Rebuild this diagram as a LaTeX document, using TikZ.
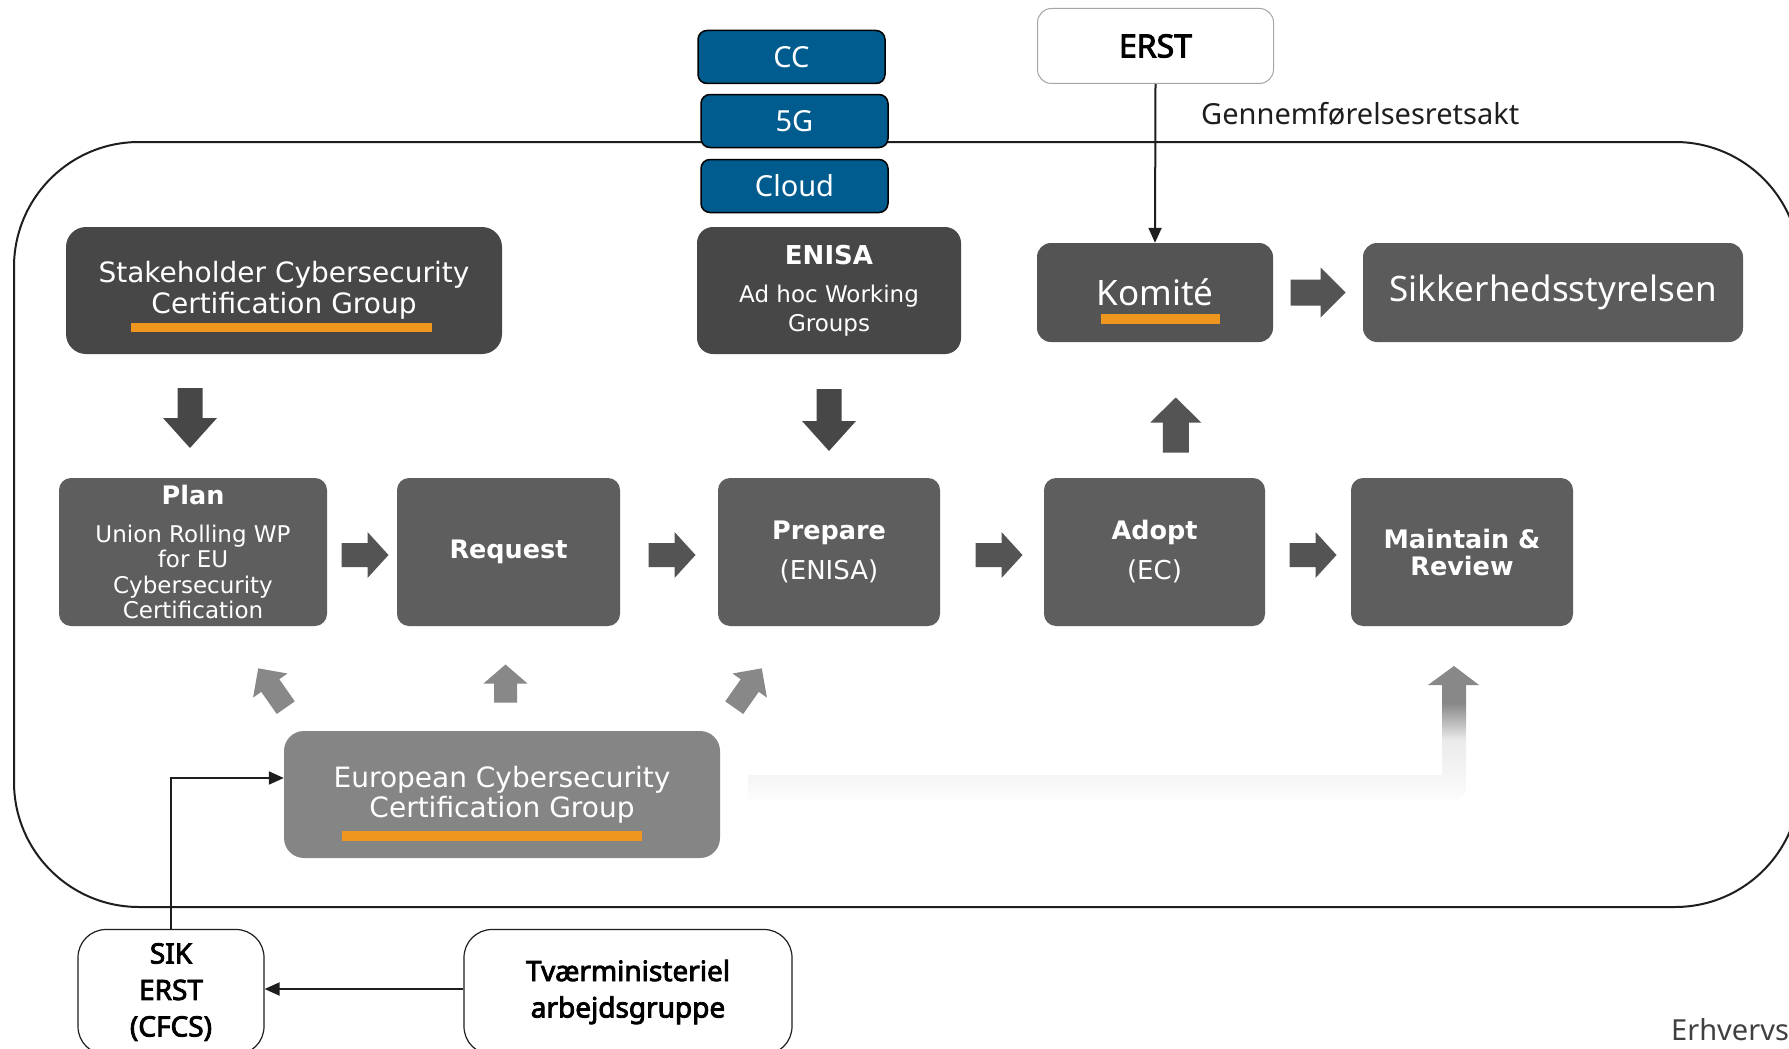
\documentclass[tikz,border=0pt]{standalone}
\usepackage{fontspec}
\setmainfont{Noto Sans}
\newfontfamily\nbf{Noto Sans}[FakeBold=3]
\newfontfamily\verd{DejaVu Sans}
\usetikzlibrary{calc,arrows.meta}
\definecolor{dk}{HTML}{474747}
\definecolor{km}{HTML}{545454}
\definecolor{sk}{HTML}{5B5B5B}
\definecolor{pr}{HTML}{5E5E5E}
\definecolor{eu}{HTML}{858585}
\definecolor{lg}{HTML}{888888}
\definecolor{blu}{HTML}{005C8F}
\definecolor{org}{HTML}{EF961F}
\definecolor{ln}{HTML}{1E1E1E}
\newcommand\fs[2]{\fontsize{#1}{#2}\selectfont}
% #1 colour, #2 centre, #3 angle, #4 total length, #5 head width, #6 shaft width, #7 head length
\newcommand\blockarw[7]{\fill[#1,shift={#2},rotate=#3]
  (-#4/2,-#6/2) -- (#4/2-#7,-#6/2) -- (#4/2-#7,-#5/2) -- (#4/2,0) --
  (#4/2-#7,#5/2) -- (#4/2-#7,#6/2) -- (-#4/2,#6/2) -- cycle;}
\begin{document}
\begin{tikzpicture}[x=1pt,y=-1pt,
  darkbox/.style={rounded corners=16pt, inner sep=0pt, align=center, text=white},
  procbox/.style={darkbox, fill=pr, rounded corners=12pt, minimum width=222pt, minimum height=148pt, font=\verd\fs{26}{26}},
  bluebox/.style={draw=black, line width=1.5pt, fill=blu, rounded corners=9pt, minimum width=187pt, minimum height=53pt, text=white, font=\fs{29}{29}, inner sep=0pt},
  whitebox/.style={draw=ln, line width=1.2pt, fill=white, rounded corners=28pt, inner sep=0pt, align=center, font=\nbf\fs{28}{36.5}, minimum height=125pt},
  conn/.style={draw=ln, line width=2pt, -{Triangle[length=15pt,width=13pt]}},
  ubar/.style={fill=org}
]
\useasboundingbox (0,0) rectangle (1789,1049);
\fill[white] (0,0) rectangle (1789,1049);

% outer frame
\draw[ln, line width=2pt, rounded corners=125pt] (14,142) rectangle (1800,907);

% top blue boxes
\node[bluebox] (cc) at (791.5,57) {CC};
\node[bluebox] (fiveg) at (794.5,121) {5G};
\node[bluebox] (cloud) at (794.5,186) {Cloud};

% ERST
\node[draw=gray!70, line width=1pt, fill=white, rounded corners=14pt, minimum width=236pt, minimum height=75pt, inner sep=0pt, font=\nbf\fs{32}{32}] (erst) at (1155.5,46) {ERST};
\node[anchor=base west, font=\fs{29}{29}, text=ln, inner sep=0pt] (gen) at (1201,124) {Gennemførelsesretsakt};

% upper boxes
\node[darkbox, fill=dk, rounded corners=20pt, minimum width=436pt, minimum height=127pt, font=\verd\fs{28}{31}] (stake) at (284,290.5) {Stakeholder Cybersecurity\\Certification Group};
\node[darkbox, fill=dk, minimum width=264pt, minimum height=127pt, font=\verd\fs{23}{29}] (enisa) at (829,290.5) {{\fs{26}{26}\bfseries ENISA}\\[9pt]Ad hoc Working\\Groups};
\node[darkbox, fill=km, rounded corners=14pt, minimum width=236pt, minimum height=99pt, font=\fs{35}{35}] (komite) at (1155,292.5) {Komité};
\node[darkbox, fill=sk, rounded corners=14pt, minimum width=380pt, minimum height=99pt, font=\fs{35}{35}] (sikk) at (1553,292.5) {Sikkerhedsstyrelsen};

% underline bars
\fill[ubar] (131,323) rectangle (432,332);
\fill[ubar] (1101,314) rectangle (1220,324);

% process row
\node[procbox, minimum width=268pt, font=\verd\fs{23}{25.5}] (plan) at (193,552) {{\fs{25.5}{25.5}\bfseries Plan}\\[12.5pt]Union Rolling WP\\for EU\\Cybersecurity\\Certification};
\node[procbox, minimum width=223pt] (request) at (508.5,552) {\bfseries\fs{25.5}{25.5}Request};
\node[procbox] (prepare) at (829,552) {{\bfseries\fs{25.5}{25.5}Prepare}\\[14pt](ENISA)};
\node[procbox, minimum width=221pt] (adopt) at (1154.5,552) {{\bfseries\fs{25.5}{25.5}Adopt}\\[14pt](EC)};
\node[procbox, font=\verd\bfseries\fs{25.5}{27}] (maintain) at (1462,552) {Maintain \&\\Review};

% European group
\node[darkbox, fill=eu, rounded corners=20pt, minimum width=436pt, minimum height=127pt, font=\verd\fs{28}{30}] (euro) at (502,794.5) {European Cybersecurity\\Certification Group};
\fill[ubar] (342,831) rectangle (642,841);

% dark block arrows
\blockarw{dk}{($(plan.north)!0.5!(plan.north |- stake.south)+(-3,2)$)}{-90}{60}{54}{25}{30}
\blockarw{dk}{($(enisa.south)!0.5!(prepare.north)+(0,4)$)}{-90}{62}{54}{25}{30}
\blockarw{km}{($(adopt.north)!0.5!(komite.south)+(21,15)$)}{90}{55}{51}{26}{25}
\blockarw{km}{($(komite.east)!0.5!(sikk.west)$)}{0}{55}{50}{26}{25}
\blockarw{km}{($(plan.east)!0.5!(request.west)+(3,3)$)}{0}{47}{46}{24}{21}
\blockarw{km}{($(request.east)!0.5!(prepare.west)+(3,3)$)}{0}{47}{46}{24}{21}
\blockarw{km}{($(prepare.east)!0.5!(adopt.west)+(7,3)$)}{0}{47}{46}{24}{21}
\blockarw{km}{($(adopt.east)!0.5!(maintain.west)+(5,3)$)}{0}{47}{46}{24}{21}

% light grey arrows from the European group
\blockarw{lg}{(272,688)}{125}{48}{42}{22}{21}
\blockarw{lg}{($(request.south)!0.5!(request.south |- euro.north)+(-3,5)$)}{90}{38}{44}{23}{19}
\blockarw{lg}{(748,688)}{55}{48}{42}{22}{21}

% fading arrow to Maintain & Review
\shade[top color=gray!16, bottom color=gray!2] (748,775) -- (1442,775) -- (1442,740) -- (1466,740) [rounded corners=12pt] -- (1466,800) [sharp corners] -- (748,800) -- cycle;
\shade[top color=lg, bottom color=gray!16] (1442,703) rectangle (1466,740);
\fill[lg] (1428,685) -- (1454,666) -- (1479,685) -- (1466,685) -- (1466,703) -- (1442,703) -- (1442,685) -- cycle;

% bottom white boxes
\node[whitebox, minimum width=186pt] (sik) at (171,992) {SIK\\ERST\\(CFCS)};
\node[whitebox, minimum width=328pt] (tvaer) at (628,992) {Tværministeriel\\arbejdsgruppe};

% connectors
\draw[conn] (erst.south) -- (komite.north);
\draw[conn] ([yshift=3pt]tvaer.west) -- ([yshift=3pt]sik.east);
\draw[conn] (sik.north) |- ([yshift=16.5pt]euro.west);

\node[anchor=base west, font=\fs{29}{29}, text=ln!85, inner sep=0pt] (erhv) at (1671,1040) {Erhvervs};
\end{tikzpicture}
\end{document}
